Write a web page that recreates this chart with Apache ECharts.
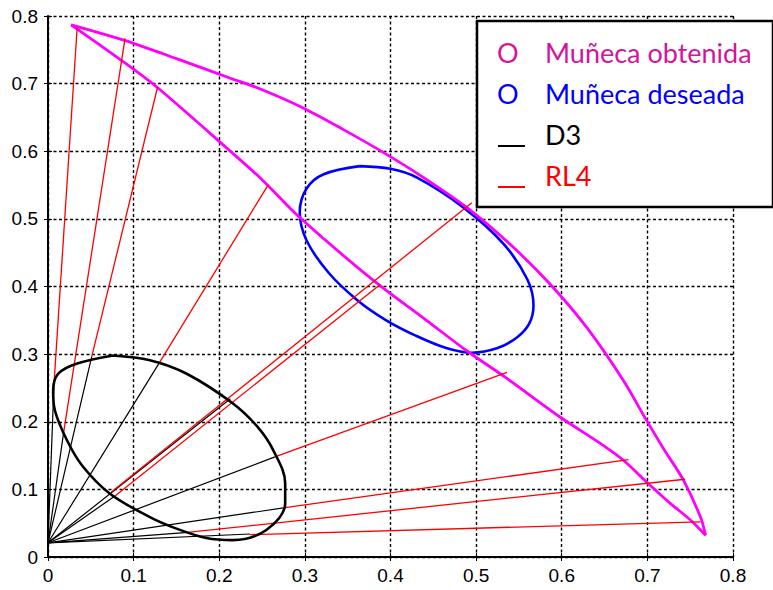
<!DOCTYPE html>
<html>
<head>
<meta charset="utf-8">
<script src="https://cdn.jsdelivr.net/npm/echarts@6/dist/echarts.min.js"></script>
<style>
html,body{margin:0;padding:0;background:#fff;}
#chart{width:773px;height:590px;}
</style>
</head>
<body>
<div id="chart"></div>
<script>
// ---------- data ----------
const xTickLabels = ['0','0.1','0.2','0.3','0.4','0.5','0.6','0.7','0.8'];
const yTickLabels = ['0','0.1','0.2','0.3','0.4','0.5','0.6','0.7','0.8'];
const legendNames = ['Muñeca obtenida','Muñeca deseada','D3','RL4'];

// Muñeca obtenida (magenta closed curve), upper branch and lower branch
const obtenidaUpper = [
  [0.027,0.787],[0.060,0.775],[0.099,0.760],[0.150,0.737],[0.213,0.708],[0.248,0.692],
  [0.298,0.664],[0.345,0.632],[0.392,0.598],[0.440,0.560],[0.489,0.517],[0.540,0.462],
  [0.586,0.404],[0.630,0.338],[0.672,0.261],[0.699,0.202],[0.720,0.158],[0.742,0.114],
  [0.762,0.059],[0.768,0.032]
];
const obtenidaLower = [
  [0.768,0.032],[0.750,0.055],[0.727,0.079],[0.699,0.111],[0.672,0.143],[0.645,0.168],
  [0.598,0.207],[0.536,0.264],[0.489,0.305],[0.442,0.350],[0.380,0.409],[0.294,0.502],
  [0.250,0.558],[0.213,0.600],[0.127,0.695],[0.084,0.736],[0.027,0.787]
];

// Muñeca deseada (blue ellipse)
const deseada = [
  [0.364,0.578],[0.400,0.574],[0.431,0.561],[0.485,0.517],[0.532,0.463],[0.560,0.410],
  [0.567,0.372],[0.562,0.345],[0.548,0.325],[0.525,0.309],[0.495,0.302],[0.465,0.309],
  [0.430,0.327],[0.395,0.350],[0.362,0.379],[0.328,0.420],[0.302,0.468],[0.294,0.510],
  [0.302,0.545],[0.322,0.566],[0.364,0.578]
];

// D3 (black ellipse)
const d3Ellipse = [
  [0.076,0.298],[0.119,0.291],[0.162,0.271],[0.216,0.227],[0.245,0.192],[0.263,0.158],
  [0.277,0.109],[0.277,0.079],[0.255,0.040],[0.216,0.025],[0.185,0.028],[0.150,0.042],
  [0.119,0.059],[0.072,0.094],[0.040,0.135],[0.022,0.173],[0.008,0.217],[0.006,0.246],
  [0.012,0.271],[0.034,0.286],[0.076,0.298]
];

// D3 rays: common origin and end points
const rayOrigin = [0, 0.021];
const d3RayEnds = [
  [0.007,0.256],[0.018,0.182],[0.051,0.296],[0.130,0.287],[0.213,0.234],
  [0.079,0.091],[0.265,0.148],[0.277,0.073],[0.160,0.036],[0.236,0.034]
];

// RL4 segments: start (on D3) -> end (on Muñeca obtenida)
const rl4Start = [
  [0.007,0.256],[0.018,0.182],[0.051,0.296],[0.130,0.287],[0.074,0.096],
  [0.079,0.091],[0.265,0.148],[0.277,0.073],[0.160,0.036],[0.236,0.033]
];
const rl4End = [
  [0.034,0.782],[0.090,0.767],[0.128,0.695],[0.257,0.550],[0.495,0.524],
  [0.388,0.403],[0.536,0.273],[0.678,0.144],[0.744,0.115],[0.762,0.052]
];

// ---------- chart ----------
const chart = echarts.init(document.getElementById('chart'), null, {renderer:'svg'});

const tickFont = {fontFamily:'Liberation Sans', fontSize:19, color:'#000'};
const gridLine = {show:true, lineStyle:{color:'#000', width:1.4, type:[3,2.5]}};

const d3Rays = d3RayEnds.map(p => ({coords:[rayOrigin, p]}));
const rl4Lines = rl4Start.map((p,i) => ({coords:[p, rl4End[i]]}));

const leg = { x0:477, y0:21, w:296, h:186 };
const rowsY = [52, 93, 134, 175];
const legFont = '27px Lato';

chart.setOption({
  animation:false,
  backgroundColor:'#fff',
  grid:{left:48, right:40, top:16, bottom:33, containLabel:false},
  xAxis:[{
    type:'value', min:0, max:0.8, interval:0.1, position:'bottom',
    axisLine:{show:true, onZero:false, lineStyle:{color:'#000', width:2}},
    axisTick:{show:true, inside:true, length:4, lineStyle:{color:'#000'}},
    axisLabel:Object.assign({margin:9, formatter:v => xTickLabels[Math.round(v*10)]}, tickFont),
    splitLine:gridLine
  },{
    type:'value', min:0, max:0.8, interval:0.1, position:'top',
    axisLine:{show:false}, axisTick:{show:true, inside:true, length:4, lineStyle:{color:'#000'}},
    axisLabel:{show:false}, splitLine:{show:false}
  }],
  yAxis:[{
    type:'value', min:0, max:0.8, interval:0.1, position:'left',
    axisLine:{show:true, onZero:false, lineStyle:{color:'#000', width:2}},
    axisTick:{show:true, inside:true, length:4, lineStyle:{color:'#000'}},
    axisLabel:Object.assign({margin:10, formatter:v => yTickLabels[Math.round(v*10)]}, tickFont),
    splitLine:gridLine
  },{
    type:'value', min:0, max:0.8, interval:0.1, position:'right',
    axisLine:{show:false}, axisTick:{show:true, inside:true, length:4, lineStyle:{color:'#000'}},
    axisLabel:{show:false}, splitLine:{show:false}
  }],
  series:[
    {name:legendNames[1], type:'line', data:deseada, smooth:0.35, showSymbol:false, z:2,
     lineStyle:{color:'#0000ff', width:2.6}},
    {name:legendNames[0], type:'line', data:obtenidaUpper, smooth:0.3, showSymbol:false, z:3,
     lineStyle:{color:'#ff00ff', width:2.8}},
    {name:legendNames[0], type:'line', data:obtenidaLower, smooth:0.3, showSymbol:false, z:3,
     lineStyle:{color:'#ff00ff', width:2.8}},
    {name:legendNames[2], type:'lines', coordinateSystem:'cartesian2d', data:d3Rays, z:4,
     lineStyle:{color:'#000', width:1.2, opacity:1}},
    {name:legendNames[3], type:'lines', coordinateSystem:'cartesian2d', data:rl4Lines, z:5,
     lineStyle:{color:'#ff0000', width:1.3, opacity:1}},
    {name:legendNames[2], type:'line', data:d3Ellipse, smooth:0.35, showSymbol:false, z:6,
     lineStyle:{color:'#000', width:2.6}}
  ],
  graphic:[
    {type:'rect', z:100, shape:{x:leg.x0, y:leg.y0, width:leg.w, height:leg.h},
     style:{fill:'#fff', stroke:'#000', lineWidth:2.5}},
    {type:'text', z:101, x:497, y:rowsY[0], style:{text:'O', fill:'#d4149c', font:legFont, verticalAlign:'middle'}},
    {type:'text', z:101, x:545, y:rowsY[0], style:{text:legendNames[0], fill:'#d4149c', font:legFont, verticalAlign:'middle'}},
    {type:'text', z:101, x:497, y:rowsY[1], style:{text:'O', fill:'#0000ff', font:legFont, verticalAlign:'middle'}},
    {type:'text', z:101, x:545, y:rowsY[1], style:{text:legendNames[1], fill:'#0000ff', font:legFont, verticalAlign:'middle'}},
    {type:'line', z:101, shape:{x1:498, y1:146, x2:525, y2:146}, style:{stroke:'#000', lineWidth:2}},
    {type:'text', z:101, x:545, y:rowsY[2], style:{text:legendNames[2], fill:'#000', font:legFont, verticalAlign:'middle'}},
    {type:'line', z:101, shape:{x1:498, y1:187, x2:525, y2:187}, style:{stroke:'#ff0000', lineWidth:2}},
    {type:'text', z:101, x:545, y:rowsY[3], style:{text:legendNames[3], fill:'#ff0000', font:legFont, verticalAlign:'middle'}}
  ]
});
</script>
</body>
</html>
